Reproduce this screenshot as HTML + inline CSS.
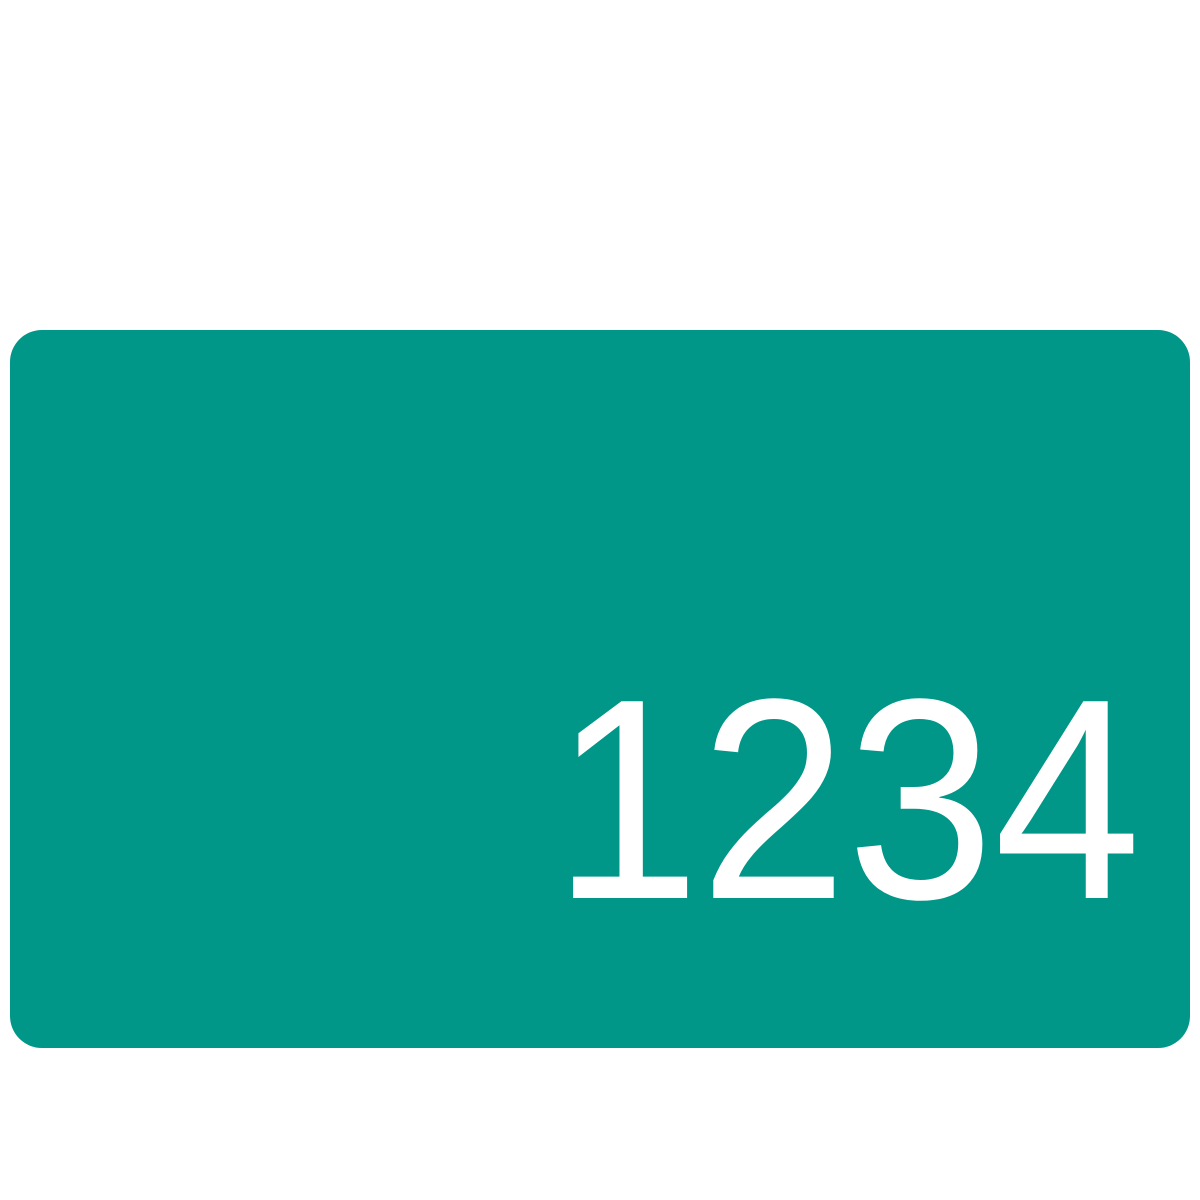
<!DOCTYPE html>
<html><head><meta charset="utf-8"><style>html,body{margin:0;padding:0;background:#fff;width:1200px;height:1200px;overflow:hidden}</style></head>
<body>
<svg width="1200" height="1200" viewBox="0 0 1200 1200">
<rect x="10" y="330" width="1180" height="718" rx="32" ry="32" fill="#009688"/>
<text x="1141" y="898" text-anchor="end" fill="#fff" font-family="'Liberation Sans', 'DejaVu Sans', sans-serif" font-size="286" textLength="588" lengthAdjust="spacingAndGlyphs">1234</text>
</svg>
</body></html>
